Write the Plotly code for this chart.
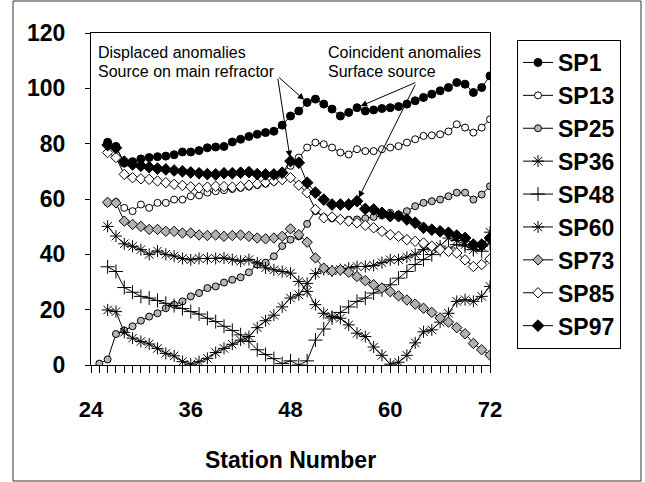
import plotly.graph_objects as go

# ---- data ----
stations = list(range(26, 73))          # stations for most shot points
stations_sp25 = list(range(25, 73))     # SP25 starts at its own shot station

SP1 = [80.5, 79, 73, 73.5, 74.5, 75, 75.3, 75.5, 76, 77,
       77, 77.5, 78.5, 78.8, 79, 80.6, 81.6, 82.6, 83.4, 84,
       84.5, 86.7, 90, 91.8, 94.9, 96.1, 94.3, 92.5, 90, 91.3,
       93, 91.8, 92.2, 92.7, 93, 93.4, 94.3, 95.5, 96.7, 97.9,
       99.1, 100.3, 102.1, 101.5, 98.5, 100.3, 104.5]
SP13 = [58.6, 58.9, 56.8, 55.6, 58, 56.8, 58.6, 58.6, 59.8, 59.8,
        61, 61.3, 62.3, 62.8, 63.2, 63.6, 64, 64.5, 65, 65.5,
        66.3, 69.7, 72, 75, 78.6, 80.4, 79.8, 78.6, 76.8, 76.1,
        78, 77.3, 77.3, 78, 78.6, 79.1, 80.4, 81.6, 82.8, 83,
        83.4, 84.4, 87, 85.8, 84, 85.8, 88.8]
SP25 = [0.5, 2, 11.2, 12.5, 14, 16, 17.5, 18.7, 20.5, 21.8, 23,
        24.8, 26, 27.8, 28.4, 29.8, 30.8, 31.7, 33.5, 36.3, 37,
        39.3, 43, 45.3, 46.5, 51, 55.6, 53.5, 53, 52.6, 52.5,
        52.6, 53, 53.5, 54, 55, 54.4, 55.6, 57.4, 58.6, 59.2,
        59.8, 61, 62.3, 62.3, 59.8, 61.6, 64.6]
SP36 = [19.9, 19.3, 11.8, 9.7, 8.5, 7.6, 6, 4.2, 3.3, 1.2,
        0.3, 1.2, 2.4, 4.5, 6, 7.5, 9, 10.3, 13.5, 16,
        18, 21, 24.2, 25.4, 29.5, 33, 34.5, 34, 34.5, 35,
        35.6, 35.6, 36, 37, 38, 38.1, 39, 40, 41.7, 42.3,
        43, 45.9, 45, 43.5, 41.7, 42.9, 48]
SP48 = [35.5, 33.8, 28, 26.3, 24.8, 24.2, 23.3, 22.3, 21.5, 20.4,
        19.3, 18.4, 16.9, 15.7, 14, 12.5, 10.9, 8.5, 5.5, 3.8,
        2.3, 0.5, 1.5, 0, 1.5, 9, 13, 17, 19, 21,
        23, 24.2, 26, 27.2, 29, 31.4, 33.8, 36.3, 38.1, 39.9,
        41.7, 42.3, 43.5, 43, 41.7, 41.1, 44]
SP60 = [50.1, 46.6, 43.8, 42.9, 41.7, 40, 41.2, 40, 39.4, 38.5,
        38, 38.5, 38.5, 38.5, 38.7, 38.1, 37.5, 38.1, 36.9, 35.1,
        34.4, 33.8, 33.2, 30.2, 26.6, 21.8, 18.7, 17.5, 16.9, 14.5,
        11.5, 10.3, 6.5, 3.5, 0.3, 1, 3.5, 8, 12, 12.7,
        15.5, 18.7, 23, 23.6, 23, 24.8, 28.4]
SP73 = [58.8, 58.6, 52, 50.8, 50.1, 49, 49, 48.3, 48.3, 47.7,
        47.7, 47, 46.8, 47, 46.5, 46.8, 47, 46.5, 45.9, 45.6,
        45.9, 46.5, 49.2, 47.1, 44.4, 38.7, 35, 34, 34.4, 33.5,
        32, 30.5, 29, 27.8, 26.5, 25, 23.5, 22, 20.5, 19,
        17, 15.5, 13.5, 11.3, 7.8, 5.5, 3.6]
SP85 = [76.8, 75, 68.9, 67.7, 67.3, 67.1, 66.5, 65.9, 65.3, 64.9,
        64.4, 64, 64.3, 64.6, 64.5, 64.3, 64.5, 65, 65.5, 66,
        66.5, 67, 67.7, 65, 62.3, 56.2, 53.2, 53.5, 52.6, 52,
        51.4, 50.5, 49.6, 48.3, 47.1, 46.5, 45.3, 44.7, 44.1, 42.9,
        41.7, 41.1, 40.5, 38, 35.6, 36.3, 38.3]
SP97 = [79.5, 78.5, 73.5, 72.5, 72, 71.5, 71, 70.7, 70.3, 70,
        69.6, 69.3, 69, 68.9, 69.3, 69.3, 69.5, 69.7, 69, 68.9,
        68.9, 69.5, 73.7, 73.1, 65.9, 62.3, 59.8, 58, 58, 58,
        59.2, 56.4, 56.2, 55, 53.8, 53.8, 52.6, 51.4, 49.6, 48.9,
        48.3, 47.8, 46.8, 45.9, 43.5, 43.5, 45.9]

x_ticks = [24, 36, 48, 60, 72]
y_ticks = [0, 20, 40, 60, 80, 100, 120]

FONT = "Arial, Liberation Sans, sans-serif"
BLACK = "black"

series = [
    ("SP1", stations, SP1, dict(symbol="circle", size=8, color=BLACK, line=dict(color=BLACK, width=1))),
    ("SP13", stations, SP13, dict(symbol="circle", size=7, color="white", line=dict(color=BLACK, width=1))),
    ("SP25", stations_sp25, SP25, dict(symbol="circle", size=7, color="#b8b8b8", line=dict(color=BLACK, width=1))),
    ("SP36", stations, SP36, dict(symbol="asterisk-open", size=10, color=BLACK, line=dict(color=BLACK, width=1))),
    ("SP48", stations, SP48, dict(symbol="cross-thin-open", size=10, color=BLACK, line=dict(color=BLACK, width=1))),
    ("SP60", stations, SP60, dict(symbol="asterisk-open", size=10, color=BLACK, line=dict(color=BLACK, width=1))),
    ("SP73", stations, SP73, dict(symbol="diamond", size=8, color="#b0b0b0", line=dict(color=BLACK, width=1))),
    ("SP85", stations, SP85, dict(symbol="diamond", size=8, color="white", line=dict(color=BLACK, width=1))),
    ("SP97", stations, SP97, dict(symbol="diamond", size=9, color=BLACK, line=dict(color=BLACK, width=1))),
]

fig = go.Figure()
for name, xs, ys, mk in series:
    fig.add_trace(go.Scatter(x=xs, y=ys, name=name, mode="lines+markers",
                             line=dict(color=BLACK, width=1), marker=mk))

L, R, T, B = 91, 155, 33, 117
PW, PH = 645 - L - R, 482 - T - B

def px(xp):
    return (xp - L) / PW

def py(yp):
    return (482 - B - yp) / PH

annotations = []
for txt, xp, yp in [("Displaced anomalies", 96, 52), ("Source on main refractor", 96, 71),
                    ("Coincident anomalies", 326, 52), ("Surface source", 326, 71)]:
    annotations.append(dict(text=txt, xref="paper", yref="paper", x=px(xp), y=py(yp),
                            xanchor="left", yanchor="middle", showarrow=False,
                            font=dict(family=FONT, size=16, color=BLACK)))

def arrow(tip_x, tip_y, tail_x, tail_y):
    return dict(x=tip_x, y=tip_y, ax=tail_x, ay=tail_y, xref="x", yref="y",
                axref="x", ayref="y", text="", showarrow=True, arrowhead=2,
                arrowsize=1.3, arrowwidth=1, arrowcolor=BLACK, standoff=4)

def idx(s):
    return stations.index(s)

annotations += [
    arrow(50, SP1[idx(50)], 46.45, 104.4),
    arrow(48, SP97[idx(48)], 46.45, 104.0),
    arrow(56, SP1[idx(56)], 63.2, 102.3),
    arrow(56, SP97[idx(56)], 63.1, 101.9),
]

fig.update_layout(
    width=645, height=482,
    margin=dict(l=L, r=R, t=T, b=B, autoexpand=False),
    paper_bgcolor="white", plot_bgcolor="white",
    font=dict(family=FONT, color=BLACK),
    showlegend=True,
    legend=dict(x=px(517), y=py(40), xanchor="left", yanchor="top",
                bordercolor=BLACK, borderwidth=1, bgcolor="white",
                font=dict(family=FONT, size=23, color=BLACK, weight="bold"),
                tracegroupgap=0),
    annotations=annotations,
    shapes=[dict(type="rect", xref="paper", yref="paper",
                 x0=px(13), x1=px(641), y0=py(481), y1=py(1),
                 line=dict(color="#333333", width=1))],
)

fig.update_xaxes(range=[24, 72], tickvals=x_ticks, ticks="outside", ticklen=7,
                 tickcolor=BLACK, showline=True, linecolor=BLACK, linewidth=1, mirror=True,
                 showgrid=False, zeroline=False, automargin=False,
                 minor=dict(dtick=1, tick0=24, ticks="outside", ticklen=7, tickcolor=BLACK, showgrid=False),
                 tickfont=dict(family=FONT, size=22, color=BLACK, weight="bold"),
                 ticklabelstandoff=18,
                 title=dict(text="Station Number", standoff=30,
                            font=dict(family=FONT, size=23, color=BLACK, weight="bold")))
fig.update_yaxes(range=[0, 120], tickvals=y_ticks, ticks="outside", ticklen=5,
                 tickcolor=BLACK, showline=True, linecolor=BLACK, linewidth=1, mirror=True,
                 showgrid=False, zeroline=False, automargin=False,
                 tickfont=dict(family=FONT, size=23, color=BLACK, weight="bold"),
                 ticklabelstandoff=15)

fig.write_html("out.html")
